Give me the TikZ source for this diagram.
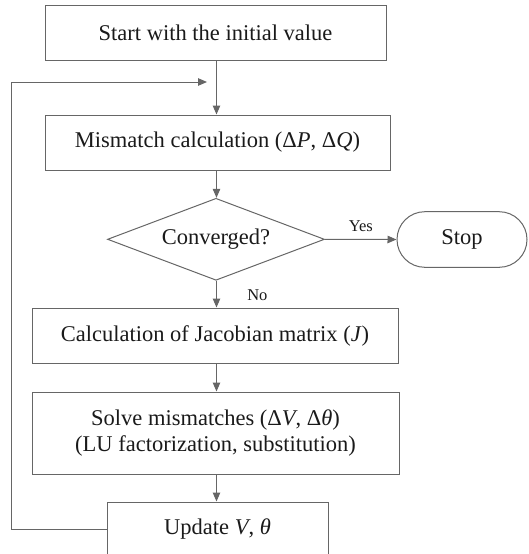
\documentclass[tikz,border=0pt]{standalone}
\usepackage{fontspec}
\setmainfont{Liberation Serif}
\usetikzlibrary{arrows.meta,shapes.geometric}
\definecolor{linegray}{HTML}{666666}
\definecolor{txt}{HTML}{1a1a1a}
\begin{document}
\begin{tikzpicture}[x=1pt,y=-1pt,
  font=\fontsize{22.5}{26}\selectfont,
  every node/.style={text=txt},
  box/.style={draw=linegray,line width=1pt,rectangle,inner sep=0pt,align=center},
  decision/.style={draw=linegray,line width=1pt,diamond,inner sep=0pt,aspect=2.646,minimum width=217pt,minimum height=82pt},
  term/.style={draw=linegray,line width=1pt,rectangle,rounded corners=27.8pt,inner sep=0pt,minimum width=130pt,minimum height=55.6pt},
  flow/.style={draw=linegray,line width=1pt,-{Triangle[length=9pt,width=7.5pt]}},
  lbl/.style={font=\fontsize{16.5}{19}\selectfont}]
\useasboundingbox (0,0) rectangle (529,554);
\node[box,minimum width=341pt,minimum height=55pt] (start) at (215.5,33.2) {Start with the initial value};
\node[box,minimum width=345pt,minimum height=55pt] (mis) at (217.5,142.5) {Mismatch calculation (Δ\textit{P}, Δ\textit{Q})};
\node[decision] (conv) at (216,239.3) {Converged?};
\node[term] (stop) at (462,239.5) {Stop};
\node[box,minimum width=366pt,minimum height=55pt] (jac) at (215,335.5) {Calculation of Jacobian matrix (\textit{J})};
\node[box,minimum width=367pt,minimum height=82pt] (solve) at (215.5,433) {Solve mismatches (Δ\textit{V}, Δ\textit{θ})\\(LU factorization, substitution)};
\node[box,minimum width=221pt,minimum height=55pt] (upd) at (217.5,529.5) {Update \textit{V}, \textit{θ}};
\coordinate (cx) at (216.5,0);
\coordinate (loopin) at (207,82);
\coordinate (loopL) at (11.7,82);
\draw[flow] (cx |- start.south) -- (cx |- mis.north);
\draw[flow] (cx |- mis.south) -- (cx |- conv.north);
\draw[flow] (cx |- conv.south) -- node[lbl,right,xshift=27pt,yshift=-1pt]{No} (cx |- jac.north);
\draw[flow] (conv.east) -- node[lbl,above,yshift=4pt]{Yes} (stop.west);
\draw[flow] (cx |- jac.south) -- (cx |- solve.north);
\draw[flow] (cx |- solve.south) -- (cx |- upd.north);
\draw[flow] (upd.west) -| (loopL) -- (loopin);
\end{tikzpicture}
\end{document}
